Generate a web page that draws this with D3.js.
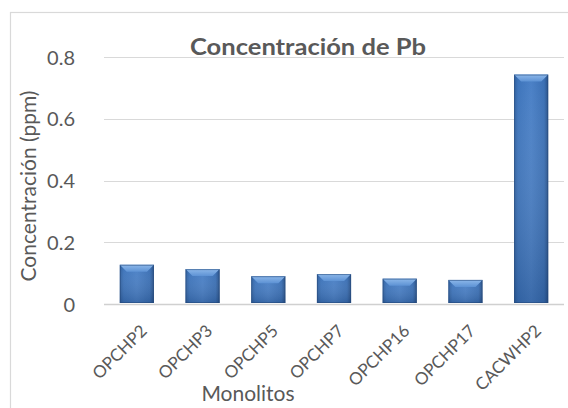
<!DOCTYPE html>
<html>
<head>
<meta charset="utf-8">
<script src="https://cdn.jsdelivr.net/npm/d3@7"></script>
<style>
  html, body { margin: 0; padding: 0; background: #fff; }
  svg { display: block; }
</style>
</head>
<body>
<svg id="chart" width="568" height="408"></svg>
<script>
// Pb concentration per monolith (ppm)
const categories = ["OPCHP2", "OPCHP3", "OPCHP5", "OPCHP7", "OPCHP16", "OPCHP17", "CACWHP2"];
const values = [0.127, 0.113, 0.090, 0.097, 0.082, 0.078, 0.743];
const yTicks = [0, 0.2, 0.4, 0.6, 0.8];
const yTickLabels = ["0", "0.2", "0.4", "0.6", "0.8"];

const title = "Concentración de Pb";
const yTitle = "Concentración (ppm)";
const xTitle = "Monolitos";

const svg = d3.select("#chart");
const W = 568, H = 408;
const margin = { left: 104, right: 4, top: 57, bottom: 104 };
const font = "Lato, 'Open Sans', sans-serif";
const textColor = "#595959";

// chart frame
svg.append("rect")
  .attr("x", 10.5).attr("y", 12.5)
  .attr("width", W + 10).attr("height", H + 10)
  .attr("fill", "#fff").attr("stroke", "#d9d9d9").attr("stroke-width", 1.2);

const x = d3.scaleBand()
  .domain(categories)
  .range([margin.left, W - margin.right])
  .paddingInner(0.48).paddingOuter(0.24);

const y = d3.scaleLinear()
  .domain([0, 0.8])
  .range([H - margin.bottom, margin.top]);

// gradients for the bevelled bars
const defs = svg.append("defs");
const body = defs.append("linearGradient").attr("id", "barBody")
  .attr("x1", "0").attr("x2", "1").attr("y1", "0").attr("y2", "0");
body.append("stop").attr("offset", "0").attr("stop-color", "#2f5f9e");
body.append("stop").attr("offset", "0.12").attr("stop-color", "#3d74bb");
body.append("stop").attr("offset", "0.5").attr("stop-color", "#4a80c6");
body.append("stop").attr("offset", "0.88").attr("stop-color", "#3a6fb4");
body.append("stop").attr("offset", "1").attr("stop-color", "#274f86");

const topG = defs.append("linearGradient").attr("id", "barTop")
  .attr("x1", "0").attr("x2", "0").attr("y1", "0").attr("y2", "1");
topG.append("stop").attr("offset", "0").attr("stop-color", "#8db8ea");
topG.append("stop").attr("offset", "1").attr("stop-color", "#5d92d4");

const vert = defs.append("linearGradient").attr("id", "barShade")
  .attr("x1", "0").attr("x2", "0").attr("y1", "0").attr("y2", "1");
vert.append("stop").attr("offset", "0").attr("stop-color", "#ffffff").attr("stop-opacity", 0.0);
vert.append("stop").attr("offset", "1").attr("stop-color", "#0d2a55").attr("stop-opacity", 0.25);

// gridlines
svg.append("g")
  .selectAll("line")
  .data(yTicks)
  .join("line")
  .attr("x1", margin.left).attr("x2", W - margin.right)
  .attr("y1", d => Math.round(y(d)) + 0.5).attr("y2", d => Math.round(y(d)) + 0.5)
  .attr("stroke", d => d === 0 ? "#d0d0d0" : "#d9d9d9")
  .attr("stroke-width", d => d === 0 ? 1.6 : 1.2);

// y axis labels
const yAxis = d3.axisLeft(y)
  .tickValues(yTicks)
  .tickFormat((d, i) => yTickLabels[i])
  .tickSize(0).tickPadding(0);
const yg = svg.append("g").attr("transform", `translate(${margin.left - 29},0)`).call(yAxis);
yg.select(".domain").remove();
yg.selectAll("text")
  .attr("font-family", font).attr("font-size", 20).attr("fill", textColor)
  .attr("dy", "0.35em");

// bars
const bev = 7;
const bars = svg.append("g").selectAll("g").data(categories).join("g");
bars.each(function(c, i) {
  const g = d3.select(this);
  const x0 = x(c), bw = x.bandwidth();
  const y0 = y(values[i]), y1 = y(0) - 1;
  g.append("rect").attr("x", x0).attr("y", y0).attr("width", bw).attr("height", y1 - y0)
    .attr("fill", "url(#barBody)");
  g.append("rect").attr("x", x0).attr("y", y0).attr("width", bw).attr("height", y1 - y0)
    .attr("fill", "url(#barShade)");
  const b = Math.min(bev, (y1 - y0) / 2);
  g.append("path")
    .attr("d", `M${x0},${y0}L${x0 + bw},${y0}L${x0 + bw - bev},${y0 + b}L${x0 + bev},${y0 + b}Z`)
    .attr("fill", "url(#barTop)");
  g.append("rect").attr("x", x0 + 0.5).attr("y", y0 + 0.5).attr("width", bw - 1).attr("height", y1 - y0 - 1)
    .attr("fill", "none").attr("stroke", "#25497a").attr("stroke-opacity", 0.55).attr("stroke-width", 1);
});

// x axis labels, rotated
const xAxis = d3.axisBottom(x).tickSize(0).tickPadding(0);
const xg = svg.append("g").attr("transform", `translate(0,${y(0)})`).call(xAxis);
xg.select(".domain").remove();
xg.selectAll("text")
  .attr("font-family", font).attr("font-size", 17).attr("fill", textColor)
  .attr("text-anchor", "end")
  .attr("dy", "0").attr("y", 0)
  .attr("transform", "translate(11,28) rotate(-45)");

// titles
svg.append("text")
  .attr("x", 308).attr("y", 55)
  .attr("text-anchor", "middle")
  .attr("font-family", font).attr("font-weight", "bold").attr("font-size", 22.5)
  .attr("textLength", 236).attr("lengthAdjust", "spacingAndGlyphs")
  .attr("fill", textColor)
  .text(title);

svg.append("text")
  .attr("transform", `translate(36,186) rotate(-90)`)
  .attr("text-anchor", "middle")
  .attr("font-family", font).attr("font-size", 21).attr("fill", textColor)
  .text(yTitle);

svg.append("text")
  .attr("x", 248).attr("y", 401)
  .attr("text-anchor", "middle")
  .attr("font-family", font).attr("font-size", 21).attr("fill", textColor)
  .text(xTitle);
</script>
</body>
</html>
